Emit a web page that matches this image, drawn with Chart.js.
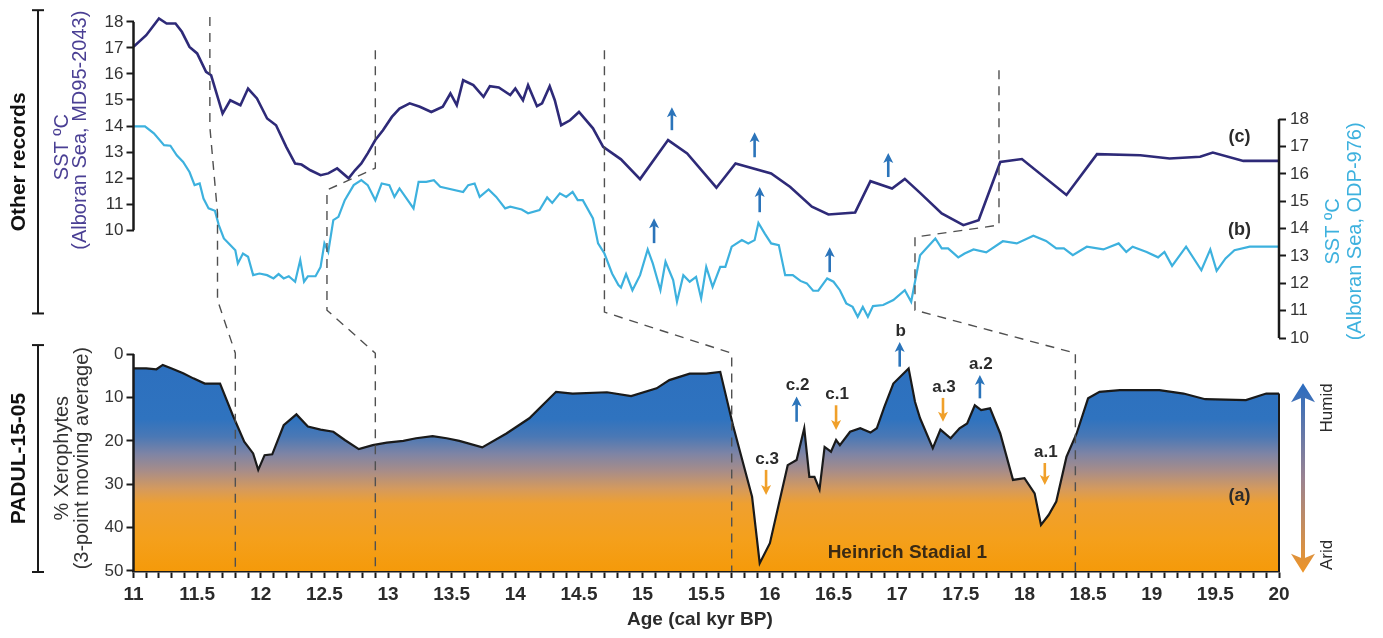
<!DOCTYPE html>
<html>
<head>
<meta charset="utf-8">
<script src="https://cdn.jsdelivr.net/npm/chart.js@4.4.1/dist/chart.umd.min.js"></script>
<style>
  html, body { margin: 0; padding: 0; background: #fff; }
  canvas { display: block; }
</style>
</head>
<body>
<canvas id="chart" width="1383" height="638"></canvas>
<script>
// SST Alboran Sea, MD95-2043 (curva c, eje izquierdo)
const mdAge = [11.00, 11.10, 11.20, 11.26, 11.33, 11.38, 11.44, 11.50, 11.57, 11.61, 11.70, 11.76, 11.84, 11.90, 11.97,
  12.05, 12.12, 12.20, 12.27, 12.32, 12.39, 12.47, 12.53, 12.60, 12.69, 12.74, 12.79, 12.84, 12.90, 12.96,
  13.03, 13.09, 13.17, 13.25, 13.34, 13.43, 13.49, 13.54, 13.59, 13.67, 13.75, 13.80, 13.87, 13.96, 14.00,
  14.06, 14.10, 14.17, 14.21, 14.27, 14.31, 14.36, 14.43, 14.50, 14.61, 14.69, 14.83, 14.98, 15.20, 15.35,
  15.58, 15.73, 16.01, 16.16, 16.33, 16.46, 16.67, 16.79, 16.96, 17.06, 17.18, 17.35, 17.52, 17.64, 17.81,
  17.98, 18.33, 18.57, 18.91, 19.14, 19.38, 19.48, 19.72, 20.00];
const mdSst = [17.04, 17.49, 18.13, 17.94, 17.94, 17.62, 17.04, 16.79, 16.08, 15.95, 14.48, 14.99, 14.80, 15.44, 15.06,
  14.29, 14.03, 13.20, 12.56, 12.52, 12.30, 12.11, 12.18, 12.37, 11.99, 12.30, 12.56, 12.95, 13.46, 13.84,
  14.35, 14.67, 14.87, 14.74, 14.54, 14.74, 15.25, 14.80, 15.76, 15.57, 15.12, 15.53, 15.48, 15.19, 15.44,
  14.99, 15.57, 14.76, 14.87, 15.53, 14.99, 14.03, 14.22, 14.54, 13.91, 13.20, 12.72, 11.96, 13.46, 12.95,
  11.63, 12.56, 12.18, 11.66, 10.90, 10.60, 10.68, 11.88, 11.60, 11.97, 11.43, 10.64, 10.19, 10.38, 12.62,
  12.73, 11.35, 12.92, 12.88, 12.75, 12.82, 12.98, 12.66, 12.66];

// SST Alboran Sea, ODP-976 (curva b, eje derecho)
const odpAge = [11.00, 11.09, 11.16, 11.24, 11.29, 11.34, 11.39, 11.44, 11.48, 11.52, 11.55, 11.59, 11.64, 11.67, 11.71,
  11.76, 11.80, 11.82, 11.86, 11.90, 11.94, 11.99, 12.05, 12.10, 12.14, 12.18, 12.22, 12.27, 12.31, 12.34,
  12.37, 12.43, 12.47, 12.50, 12.53, 12.57, 12.61, 12.66, 12.73, 12.79, 12.84, 12.90, 12.95, 13.01, 13.05,
  13.09, 13.20, 13.24, 13.30, 13.36, 13.41, 13.59, 13.63, 13.68, 13.72, 13.79, 13.85, 13.92, 13.96, 14.05,
  14.10, 14.19, 14.25, 14.29, 14.35, 14.40, 14.45, 14.49, 14.53, 14.61, 14.65, 14.70, 14.76, 14.81, 14.83,
  14.87, 14.92, 14.98, 15.04, 15.08, 15.14, 15.18, 15.24, 15.27, 15.32, 15.37, 15.42, 15.46, 15.50, 15.55,
  15.61, 15.65, 15.70, 15.78, 15.83, 15.88, 15.91, 15.96, 16.01, 16.07, 16.12, 16.18, 16.24, 16.29, 16.34,
  16.38, 16.45, 16.50, 16.55, 16.60, 16.65, 16.69, 16.73, 16.77, 16.81, 16.89, 16.97, 17.06, 17.11, 17.18,
  17.23, 17.30, 17.35, 17.40, 17.48, 17.53, 17.60, 17.70, 17.83, 17.94, 18.07, 18.17, 18.25, 18.31, 18.38,
  18.49, 18.62, 18.74, 18.80, 18.85, 18.96, 19.05, 19.10, 19.16, 19.27, 19.39, 19.46, 19.51, 19.58, 19.65,
  19.77, 20.00];
const odpSst = [17.74, 17.74, 17.48, 17.05, 17.03, 16.68, 16.44, 16.07, 15.59, 15.65, 15.10, 14.74, 14.65, 14.13, 13.64,
  13.40, 13.21, 12.73, 13.09, 12.97, 12.30, 12.36, 12.30, 12.18, 12.34, 12.18, 12.26, 12.06, 12.85, 12.06,
  12.26, 12.26, 12.60, 13.46, 13.15, 14.31, 14.43, 15.04, 15.59, 15.77, 15.59, 15.04, 15.65, 15.59, 15.16,
  15.47, 14.74, 15.71, 15.71, 15.77, 15.53, 15.34, 15.59, 15.65, 15.16, 15.43, 15.16, 14.74, 14.80, 14.70,
  14.56, 14.68, 15.14, 14.94, 15.29, 15.16, 15.34, 15.04, 15.04, 14.37, 13.46, 13.09, 12.36, 11.94, 11.85,
  12.34, 11.75, 12.30, 13.24, 12.73, 11.75, 12.79, 12.12, 11.33, 12.30, 12.06, 12.24, 11.45, 12.60, 11.87,
  12.60, 12.60, 13.34, 13.58, 13.46, 13.58, 14.21, 13.82, 13.46, 13.40, 12.30, 12.30, 12.09, 12.00, 11.73,
  11.73, 12.18, 12.06, 11.75, 11.27, 11.14, 10.78, 11.14, 10.78, 11.17, 11.21, 11.39, 11.75, 11.33, 13.03,
  13.28, 13.64, 13.28, 13.28, 12.95, 13.09, 13.24, 13.13, 13.54, 13.46, 13.74, 13.55, 13.28, 13.28, 13.03,
  13.34, 13.24, 13.46, 13.15, 13.34, 13.15, 12.95, 13.15, 12.64, 13.34, 12.48, 13.24, 12.46, 12.91, 13.21,
  13.34, 13.34];

// PADUL-15-05, % xerófitas (media móvil de 3 puntos)
const padulAge = [11.00, 11.10, 11.18, 11.23, 11.30, 11.39, 11.47, 11.56, 11.68, 11.78, 11.87, 11.94, 11.98, 12.03, 12.09,
  12.18, 12.28, 12.37, 12.47, 12.57, 12.66, 12.77, 12.88, 12.99, 13.12, 13.22, 13.35, 13.46, 13.56, 13.74,
  13.93, 14.11, 14.32, 14.45, 14.72, 14.91, 15.11, 15.21, 15.37, 15.50, 15.61, 15.71, 15.86, 15.92, 16.00,
  16.14, 16.21, 16.27, 16.31, 16.35, 16.39, 16.43, 16.48, 16.52, 16.55, 16.63, 16.71, 16.79, 16.84, 16.90,
  16.97, 17.09, 17.14, 17.18, 17.28, 17.34, 17.42, 17.49, 17.55, 17.61, 17.66, 17.73, 17.81, 17.91, 18.00,
  18.08, 18.13, 18.19, 18.25, 18.33, 18.41, 18.50, 18.59, 18.75, 19.06, 19.25, 19.42, 19.74, 19.90, 20.00];
const xeroPct = [3.3, 3.3, 3.5, 2.5, 3.3, 4.4, 5.6, 6.8, 6.8, 14.1, 20.2, 22.9, 26.7, 23.3, 23.1,
  16.4, 13.9, 16.7, 17.4, 17.9, 19.8, 21.9, 21.0, 20.4, 20.0, 19.4, 18.9, 19.4, 20.0, 21.5,
  18.3, 14.8, 8.7, 9.1, 8.8, 9.7, 7.9, 6.0, 4.5, 4.5, 4.1, 16.4, 32.9, 48.2, 43.6,
  25.6, 24.4, 17.1, 28.3, 28.3, 31.2, 21.4, 22.5, 19.8, 21.0, 17.9, 17.1, 18.1, 17.1, 12.1,
  6.8, 3.3, 11.0, 14.8, 21.7, 17.4, 19.4, 17.1, 16.0, 11.8, 12.9, 12.5, 18.3, 29.0, 28.6,
  32.1, 39.4, 37.1, 34.0, 23.7, 18.3, 10.2, 8.7, 8.3, 8.3, 9.1, 10.4, 10.6, 9.1, 9.1];

// Ticks
const sstTicks = [10, 11, 12, 13, 14, 15, 16, 17, 18];
const xeroTicks = [0, 10, 20, 30, 40, 50];

// Flechas en las curvas SST: [edad, eje, cola, punta]
const sstArrows = [
  [15.23, 'ySST1', 13.84, 14.72], [15.88, 'ySST1', 12.80, 13.76], [16.93, 'ySST1', 12.04, 12.96],
  [15.09, 'ySST2', 13.47, 14.38], [15.92, 'ySST2', 14.60, 15.52], [16.47, 'ySST2', 12.41, 13.32]
];

// Eventos en PADUL (etiqueta, edad, cola, punta en % xerófitas)
const eventNames = ['c.3', 'c.2', 'c.1', 'b', 'a.3', 'a.2', 'a.1'];
const eventAge = [15.97, 16.21, 16.52, 17.02, 17.36, 17.65, 18.16];
const eventTail = [26.7, 15.6, 11.8, 2.9, 10.1, 10.2, 25.1];
const eventTip = [32.5, 9.8, 17.5, -2.8, 15.6, 4.8, 30.2];

// Líneas discontinuas de correlación: [edad, eje, valor]
const links = [
  [[11.6, 'ySST2', 21.73], [11.6, 'ySST2', 17.71], [11.66, 'ySST2', 14.57], [11.66, 'ySST2', 11.39], [11.8, 'yX', -0.2], [11.8, 'yX', 50]],
  [[12.9, 'ySST2', 20.52], [12.9, 'ySST2', 16.21], [12.52, 'ySST2', 15.41], [12.52, 'ySST2', 11.02], [12.9, 'yX', -0.2], [12.9, 'yX', 50]],
  [[14.7, 'ySST2', 20.52], [14.7, 'ySST2', 10.95], [15.7, 'yX', -0.2], [15.7, 'yX', 50]],
  [[17.8, 'ySST2', 19.79], [17.8, 'ySST2', 14.13], [17.14, 'ySST2', 13.69], [17.14, 'ySST2', 11.02], [18.4, 'yX', -0.2], [18.4, 'yX', 50]]
];

const FONT = '"Liberation Sans", Arial, sans-serif';
const INK = '#2b2b2b';
const PURPLE = '#2e2a78';
const CYAN = '#3db1de';
const BLUE = '#2b74ba';
const ORANGE = '#f0a02a';

const pts = (xs, ys) => xs.map((x, i) => ({ x: x, y: ys[i] }));

// Degradado azul -> naranja del área de xerófitas
function xeroFill(context) {
    const chart = context.chart;
    const s = chart.scales.yX;
    if (!s || !chart.chartArea) return '#f39a10';
    const g = chart.ctx.createLinearGradient(0, s.getPixelForValue(0), 0, s.getPixelForValue(50));
    g.addColorStop(0, '#2c6fbe');
    g.addColorStop(0.30, '#2f73bf');
    g.addColorStop(0.38, '#4a78b5');
    g.addColorStop(0.46, '#7e84a5');
    g.addColorStop(0.54, '#a88d88');
    g.addColorStop(0.62, '#d49a5e');
    g.addColorStop(0.69, '#efa030');
    g.addColorStop(0.85, '#f4a01c');
    g.addColorStop(1, '#f59a0a');
    return g;
}

function seg(ctx, x1, y1, x2, y2) {
    ctx.beginPath();
    ctx.moveTo(x1, y1);
    ctx.lineTo(x2, y2);
    ctx.stroke();
}

function arrow(ctx, x, yTail, yTip, color, w, head, hw) {
    const dir = Math.sign(yTip - yTail);
    ctx.strokeStyle = color;
    ctx.fillStyle = color;
    ctx.lineWidth = w;
    seg(ctx, x, yTail, x, yTip - dir * head * 0.6);
    ctx.beginPath();
    ctx.moveTo(x, yTip);
    ctx.lineTo(x - hw / 2, yTip - dir * head);
    ctx.lineTo(x, yTip - dir * head * 0.75);
    ctx.lineTo(x + hw / 2, yTip - dir * head);
    ctx.closePath();
    ctx.fill();
}

function vtext(ctx, txt, x, y, font, color) {
    ctx.save();
    ctx.translate(x, y);
    ctx.rotate(-Math.PI / 2);
    ctx.font = font;
    ctx.fillStyle = color;
    ctx.textAlign = 'center';
    ctx.textBaseline = 'middle';
    ctx.fillText(txt, 0, 0);
    ctx.restore();
}

function text(ctx, txt, x, y, font, color) {
    ctx.font = font;
    ctx.fillStyle = color;
    ctx.textAlign = 'center';
    ctx.textBaseline = 'middle';
    ctx.fillText(txt, x, y);
}

function bracket(ctx, x, y1, y2) {
    ctx.strokeStyle = '#1a1a1a';
    ctx.lineWidth = 2;
    seg(ctx, x, y1, x, y2);
    seg(ctx, x - 6, y1, x + 6, y1);
    seg(ctx, x - 6, y2, x + 6, y2);
}

const decor = {
    id: 'decor',
    afterDatasetsDraw(chart) {
        const { ctx, chartArea: area, scales } = chart;
        const px = a => scales.x.getPixelForValue(a);
        const py = (id, v) => scales[id].getPixelForValue(v);
        ctx.save();

        // ejes verticales (solo el tramo con ticks)
        ctx.strokeStyle = '#1a1a1a';
        ctx.lineWidth = 2.5;
        seg(ctx, area.left, py('ySST1', 18), area.left, py('ySST1', 10));
        seg(ctx, area.right, py('ySST2', 18), area.right, py('ySST2', 10));
        seg(ctx, area.left, py('yX', 0), area.left, py('yX', 50) + 1);
        // borde derecho del área
        ctx.lineWidth = 2;
        seg(ctx, px(20), py('yX', xeroPct[xeroPct.length - 1]), px(20), py('yX', 50));

        // correlaciones
        ctx.strokeStyle = '#505050';
        ctx.lineWidth = 1.4;
        ctx.setLineDash([9, 7]);
        links.forEach(path => {
            ctx.beginPath();
            path.forEach(([a, id, v], i) => {
                if (i === 0) ctx.moveTo(px(a), py(id, v));
                else ctx.lineTo(px(a), py(id, v));
            });
            ctx.stroke();
        });
        ctx.setLineDash([]);

        // flechas en SST
        sstArrows.forEach(([a, id, tail, tip]) => {
            arrow(ctx, px(a), py(id, tail), py(id, tip), BLUE, 2.6, 10, 10);
        });

        // eventos PADUL
        eventNames.forEach((name, i) => {
            const up = eventTip[i] < eventTail[i];
            const x = px(eventAge[i]);
            const yTail = py('yX', eventTail[i]);
            const yTip = py('yX', eventTip[i]);
            arrow(ctx, x, yTail, yTip, up ? BLUE : ORANGE, 2.6, 10, 10);
            text(ctx, name, x + 1, Math.min(yTail, yTip) - 11, 'bold 17px ' + FONT, INK);
        });

        // etiquetas de curvas
        text(ctx, '(c)', px(19.69), py('ySST2', 17.34), 'bold 18px ' + FONT, INK);
        text(ctx, '(b)', px(19.69), py('ySST2', 13.95), 'bold 18px ' + FONT, INK);
        text(ctx, '(a)', px(19.69), py('yX', 32.7), 'bold 18px ' + FONT, INK);
        text(ctx, 'Heinrich Stadial 1', px(17.08), py('yX', 45.8), 'bold 19px ' + FONT, '#3a2a14');

        // títulos izquierda
        const topY = py('ySST1', 18.45);
        const midY = py('ySST2', 10.9);
        bracket(ctx, area.left - 95.5, topY, midY);
        vtext(ctx, 'Other records', area.left - 114, (topY + midY) / 2, 'bold 21px ' + FONT, '#111');
        const padTop = scales.yX.top;
        const padBot = py('yX', 50) + 1;
        bracket(ctx, area.left - 95.5, padTop, padBot);
        vtext(ctx, 'PADUL-15-05', area.left - 114, (padTop + padBot) / 2, 'bold 21px ' + FONT, '#111');

        vtext(ctx, 'SST ºC', area.left - 71.5, py('ySST1', 13.19), '20px ' + FONT, '#4a3f94');
        vtext(ctx, '(Alboran Sea, MD95-2043)', area.left - 53.5, py('ySST1', 13.84), '20px ' + FONT, '#4a3f94');
        vtext(ctx, '% Xerophytes', area.left - 71.5, py('yX', 24), '20px ' + FONT, '#333');
        vtext(ctx, '(3-point moving average)', area.left - 51.5, py('yX', 24), '20px ' + FONT, '#333');

        // título derecho
        vtext(ctx, 'SST ºC', area.right + 54, py('ySST2', 13.9), '20px ' + FONT, CYAN);
        vtext(ctx, '(Alboran Sea, ODP-976)', area.right + 76, py('ySST2', 13.9), '20px ' + FONT, CYAN);

        // flecha húmedo / árido
        const hx = area.right + 24;
        const hTop = py('yX', 6.7);
        const hBot = py('yX', 50.4);
        const hg = ctx.createLinearGradient(0, hTop, 0, hBot);
        hg.addColorStop(0, '#2a6cc0');
        hg.addColorStop(0.5, '#9a8392');
        hg.addColorStop(1, '#ee9528');
        ctx.strokeStyle = hg;
        ctx.fillStyle = hg;
        ctx.lineWidth = 4;
        seg(ctx, hx, hTop + 12, hx, hBot - 12);
        [[hTop, 1], [hBot, -1]].forEach(([y, d]) => {
            ctx.beginPath();
            ctx.moveTo(hx, y);
            ctx.lineTo(hx - 12, y + d * 19);
            ctx.lineTo(hx, y + d * 14);
            ctx.lineTo(hx + 12, y + d * 19);
            ctx.closePath();
            ctx.fill();
        });
        vtext(ctx, 'Humid', area.right + 48, py('yX', 12.4), '17px ' + FONT, INK);
        vtext(ctx, 'Arid', area.right + 48, py('yX', 46.3), '17px ' + FONT, INK);

        // título eje x
        text(ctx, 'Age (cal kyr BP)', px(15.45), area.bottom + 49, 'bold 19px ' + FONT, INK);

        ctx.restore();
    }
};

const tickFont = { family: FONT, size: 17 };
const yGrid = { drawOnChartArea: false, drawTicks: true, tickLength: 7, tickColor: '#1a1a1a', tickWidth: 2 };

new Chart(document.getElementById('chart').getContext('2d'), {
    type: 'line',
    data: {
        datasets: [
            {
                label: 'MD95-2043',
                data: pts(mdAge, mdSst),
                yAxisID: 'ySST1',
                borderColor: PURPLE,
                borderWidth: 2.6,
                pointRadius: 0,
                fill: false
            },
            {
                label: 'ODP-976',
                data: pts(odpAge, odpSst),
                yAxisID: 'ySST2',
                borderColor: CYAN,
                borderWidth: 2.2,
                pointRadius: 0,
                fill: false
            },
            {
                label: 'PADUL-15-05',
                data: pts(padulAge, xeroPct),
                yAxisID: 'yX',
                borderColor: '#1a1a1a',
                borderWidth: 2.2,
                pointRadius: 0,
                backgroundColor: xeroFill,
                fill: { value: 50 }
            }
        ]
    },
    options: {
        responsive: false,
        animation: false,
        events: [],
        layout: { padding: { left: 73.5, right: 54, top: 14, bottom: 27 } },
        plugins: { legend: { display: false }, tooltip: { enabled: false } },
        scales: {
            x: {
                type: 'linear',
                min: 11,
                max: 20,
                position: 'bottom',
                ticks: {
                    stepSize: 0.1,
                    autoSkip: false,
                    minRotation: 0,
                    maxRotation: 0,
                    padding: 5,
                    color: INK,
                    font: { family: FONT, size: 19, weight: 'bold' },
                    callback: v => Math.abs(v * 2 - Math.round(v * 2)) < 1e-6 ? String(Math.round(v * 10) / 10) : ''
                },
                grid: { drawOnChartArea: false, drawTicks: true, tickLength: 7, color: '#1a1a1a', tickColor: '#1a1a1a', tickWidth: 2 },
                border: { display: true, color: '#1a1a1a', width: 2.5 },
                afterFit: s => { s.height = 40; }
            },
            ySST1: {
                type: 'linear',
                position: 'left',
                stack: 'left',
                stackWeight: 331,
                weight: 2,
                min: 5.584,
                max: 18.296,
                afterBuildTicks: s => { s.ticks = sstTicks.map(v => ({ value: v })); },
                ticks: { color: '#333', font: tickFont, padding: 3, autoSkip: false },
                grid: yGrid,
                border: { display: false },
                afterFit: s => { s.width = 60; }
            },
            yX: {
                type: 'linear',
                position: 'left',
                stack: 'left',
                stackWeight: 226,
                weight: 1,
                reverse: true,
                min: -2.074,
                max: 50,
                afterBuildTicks: s => { s.ticks = xeroTicks.map(v => ({ value: v })); },
                ticks: { color: '#333', font: tickFont, padding: 3, autoSkip: false },
                grid: yGrid,
                border: { display: false },
                afterFit: s => { s.width = 60; }
            },
            ySST2: {
                type: 'linear',
                position: 'right',
                min: 1.489,
                max: 21.836,
                afterBuildTicks: s => { s.ticks = sstTicks.map(v => ({ value: v })); },
                ticks: { color: '#333', font: tickFont, padding: 4, autoSkip: false },
                grid: yGrid,
                border: { display: false },
                afterFit: s => { s.width = 50; }
            }
        }
    },
    plugins: [decor]
});
</script>
</body>
</html>
